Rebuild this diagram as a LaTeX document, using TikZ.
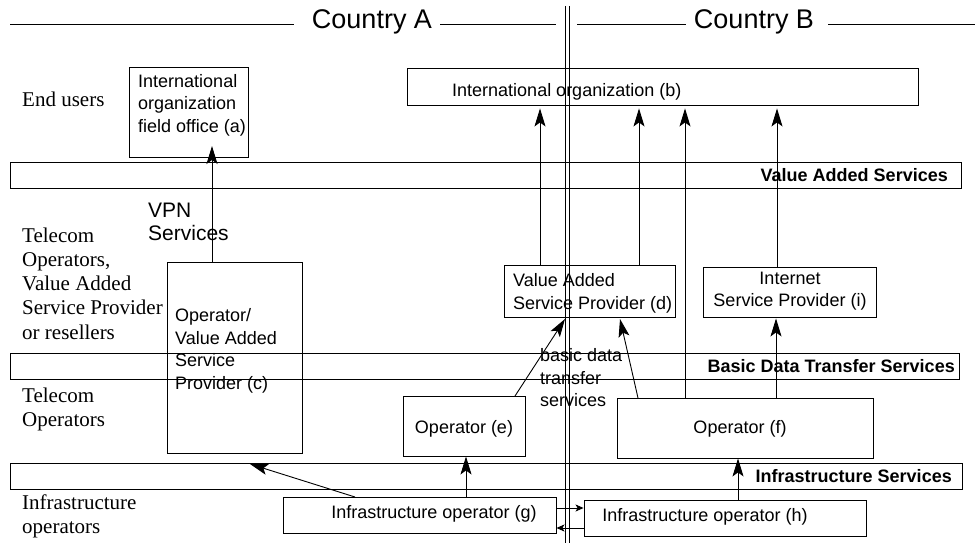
\documentclass[tikz,border=0pt]{standalone}
\usepackage{fontspec}
\setmainfont{Liberation Sans}
\newfontfamily\lblfont{Liberation Serif}
\usetikzlibrary{arrows.meta}

\begin{document}
\begin{tikzpicture}[x=1pt,y=-1pt,
  rule/.style={draw=black, line width=0.9pt},
  box/.style={draw=black, line width=0.9pt, inner sep=0pt, fill=none},
  band/.style={draw=black, line width=0.9pt, inner sep=0pt},
  txt/.style={inner sep=0pt, font=\fontsize{18}{22.5}\selectfont},
  bandtxt/.style={inner sep=0pt, font=\fontsize{18}{22}\selectfont\bfseries, anchor=east},
  hdr/.style={inner sep=0pt, font=\fontsize{27}{30}\selectfont},
  lbl/.style={inner sep=0pt, font=\lblfont\fontsize{21}{24.3}\selectfont, anchor=west, align=left},
  vpn/.style={inner sep=0pt, font=\fontsize{21}{23}\selectfont, anchor=west, align=left},
  arr/.style={draw=black, line width=0.9pt, -{Stealth[length=18pt,width=11pt,inset=4pt]}},
  sarr/.style={draw=black, line width=0.9pt, -{Stealth[length=8pt,width=7pt,inset=2pt]}}
]
\useasboundingbox[fill=white] (0,0) rectangle (979,543);

% country headings and border
\node[hdr] (cA) at (372,22) {Country A};
\node[hdr] (cB) at (754,22) {Country B};
\draw[rule] (10,24) -- (294,24);
\draw[rule] (440,24) -- (556,24);
\draw[rule] (577,24) -- (686,24);
\draw[rule] (828,24) -- (975,24);
\draw[rule] (565.5,6) -- (565.5,543);
\draw[rule] (569.5,6) -- (569.5,543);

% service layers
\node[band, minimum width=951, minimum height=26] (vas) at (485.5,175) {};
\node[band, minimum width=949, minimum height=26] (bdt) at (484.5,366) {};
\node[band, minimum width=952, minimum height=26] (inf) at (486,476) {};
\node[bandtxt] (vasT) at (948,175.5) {Value Added Services};
\node[bandtxt] (bdtT) at (955,366) {Basic Data Transfer Services};
\node[bandtxt] (infT) at (952,476) {Infrastructure Services};

% row labels
\node[lbl] (l1) at (22,99) {End users};
\node[lbl] (l2) at (22,283.5) {Telecom\\Operators,\\Value Added\\Service Provider\\or resellers};
\node[lbl] (l3) at (22,409.5) {Telecom\\Operators};
\node[lbl] (l4) at (22,516.5) {Infrastructure\\operators};

% actors
\node[box, minimum width=119, minimum height=90] (a) at (188.5,112) {};
\node[box, minimum width=511, minimum height=37] (b) at (662.5,86.5) {};
\node[box, minimum width=135, minimum height=191] (c) at (234.5,357.5) {};
\node[box, minimum width=171, minimum height=52] (d) at (589.5,291) {};
\node[box, minimum width=173, minimum height=50] (i) at (789.5,292) {};
\node[box, minimum width=122, minimum height=60] (e) at (464,426) {};
\node[box, minimum width=256, minimum height=60] (f) at (745,428) {};
\node[box, minimum width=273, minimum height=36] (g) at (419.5,515) {};
\node[box, minimum width=282, minimum height=36] (h) at (725,518) {};

\node[txt, anchor=west, align=left] (aT) at (138,105) {International\\organization\\field office (a)};
\node[txt, anchor=west] (bT) at (452,92) {International organization (b)};
\node[txt, anchor=west, align=left] (cT) at (175,351) {Operator/\\Value Added\\Service\\Provider (c)};
\node[txt, anchor=west, align=left] (dT) at (513,293.5) {Value Added\\Service Provider (d)};
\node[txt, align=center] (iT) at (790,291) {Internet\\Service Provider (i)};
\node[txt] (eT) at (464,429) {Operator (e)};
\node[txt] (fT) at (740,429) {Operator (f)};
\node[txt] (gT) at (434,514) {Infrastructure operator (g)};
\node[txt] (hT) at (705,517) {Infrastructure operator (h)};

\node[vpn] (vpnT) at (148,221.5) {VPN\\Services};
\node[txt, anchor=west, align=left] (bdT) at (540,378) {basic data\\transfer\\services};

% connector positions
\coordinate (xa) at (212,146);
\coordinate (x1) at (540,0);
\coordinate (x2) at (639,0);
\coordinate (x3) at (685,0);
\coordinate (x4) at (777,0);
\coordinate (xi) at (776,0);
\coordinate (xe) at (466,0);
\coordinate (xf) at (738,0);
\coordinate (ed0) at (515,396);
\coordinate (ed1) at (565,319);
\coordinate (fd0) at (638,398);
\coordinate (fd1) at (620,319);
\coordinate (gc0) at (355,497);
\coordinate (gc1) at (250,464);
\coordinate (y1) at (0,508);
\coordinate (y2) at (0,528);

% connectors
\draw[arr] (c.north -| xa) -- (xa);
\draw[arr, shorten >=3pt] (d.north -| x1) -- (b.south -| x1);
\draw[arr, shorten >=3pt] (d.north -| x2) -- (b.south -| x2);
\draw[arr, shorten >=3pt] (f.north -| x3) -- (b.south -| x3);
\draw[arr, shorten >=3pt] (i.north -| x4) -- (b.south -| x4);
\draw[arr, shorten >=1pt] (f.north -| xi) -- (i.south -| xi);
\draw[arr] (ed0) -- (ed1);
\draw[arr] (fd0) -- (fd1);
\draw[arr] (g.north -| xe) -- (e.south -| xe);
\draw[arr] (h.north -| xf) -- (f.south -| xf);
\draw[arr] (gc0) -- (gc1);
\draw[sarr] (g.east |- y1) -- (h.west |- y1);
\draw[sarr] (h.west |- y2) -- (g.east |- y2);
\end{tikzpicture}
\end{document}
